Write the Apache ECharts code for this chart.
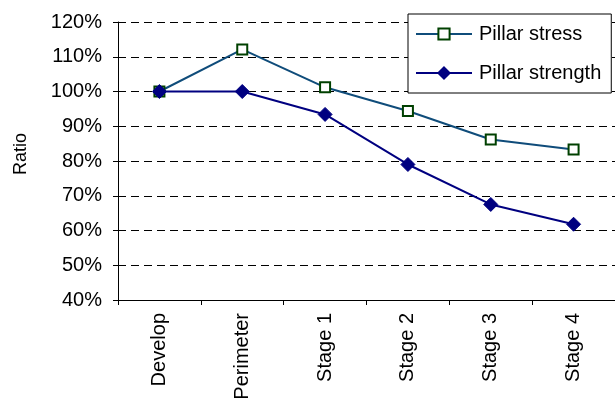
<!DOCTYPE html>
<html>
<head>
<meta charset="utf-8">
<script src="https://cdn.jsdelivr.net/npm/echarts@6/dist/echarts.min.js"></script>
<style>
html, body { margin: 0; padding: 0; background: #fff; }
#chart_div { width: 615px; height: 407px; }
</style>
</head>
<body>
<div id="chart_div"></div>
<script>
var categories = ['Develop', 'Perimeter', 'Stage 1', 'Stage 2', 'Stage 3', 'Stage 4'];
var pillarStress = [100, 112.1, 101.2, 94.4, 86.2, 83.3];
var pillarStrength = [100, 100, 93.4, 79.0, 67.5, 61.8];
var yTicks = { min: 40, max: 120, interval: 10 };

var fontFamily = 'Liberation Sans, Arial, sans-serif';

var chart = echarts.init(document.getElementById('chart_div'));
chart.setOption({
	animation: false,
	backgroundColor: '#fff',
	grid: { left: 118, right: -1, top: 22, bottom: 107, containLabel: false },
	legend: {
		orient: 'vertical',
		left: 408,
		top: 14,
		padding: [10, 10, 10, 7],
		borderColor: '#000',
		borderWidth: 1,
		borderRadius: 0,
		backgroundColor: '#fff',
		itemWidth: 56,
		itemHeight: 14,
		itemGap: 19,
		textStyle: { fontFamily: fontFamily, fontSize: 20, color: '#000', padding: [0, 0, 0, 2] },
		data: ['Pillar stress', 'Pillar strength']
	},
	xAxis: {
		type: 'category',
		data: categories,
		boundaryGap: true,
		axisLine: { lineStyle: { color: '#000', width: 1 } },
		axisTick: { show: true, length: 5, lineStyle: { color: '#000' } },
		axisLabel: { rotate: 90, margin: 13, fontFamily: fontFamily, fontSize: 20, color: '#000', interval: 0 }
	},
	yAxis: {
		type: 'value',
		min: yTicks.min,
		max: yTicks.max,
		interval: yTicks.interval,
		name: 'Ratio',
		nameLocation: 'middle',
		nameGap: 88,
		nameRotate: 90,
		nameTextStyle: { fontFamily: fontFamily, fontSize: 18, color: '#000', padding: [0, 0, 0, 14] },
		axisLine: { show: true, lineStyle: { color: '#000', width: 1 } },
		axisTick: { show: true, length: 5, lineStyle: { color: '#000' } },
		axisLabel: {
			margin: 16,
			fontFamily: fontFamily, fontSize: 20, color: '#000',
			formatter: function(v){ return v + '%'; }
		},
		splitLine: { show: true, lineStyle: { color: '#000', type: [8, 5], width: 1 } }
	},
	series: [
		{
			name: 'Pillar stress',
			type: 'line',
			data: pillarStress,
			symbol: 'rect',
			symbolSize: 10,
			lineStyle: { color: '#0f4c7a', width: 2 },
			itemStyle: { color: '#fff', borderColor: '#004000', borderWidth: 2 },
			z: 3
		},
		{
			name: 'Pillar strength',
			type: 'line',
			data: pillarStrength,
			symbol: 'diamond',
			symbolSize: 14,
			lineStyle: { color: '#000080', width: 2 },
			itemStyle: { color: '#000080', borderColor: '#000080', borderWidth: 1 },
			z: 4
		}
	]
});
</script>
</body>
</html>
